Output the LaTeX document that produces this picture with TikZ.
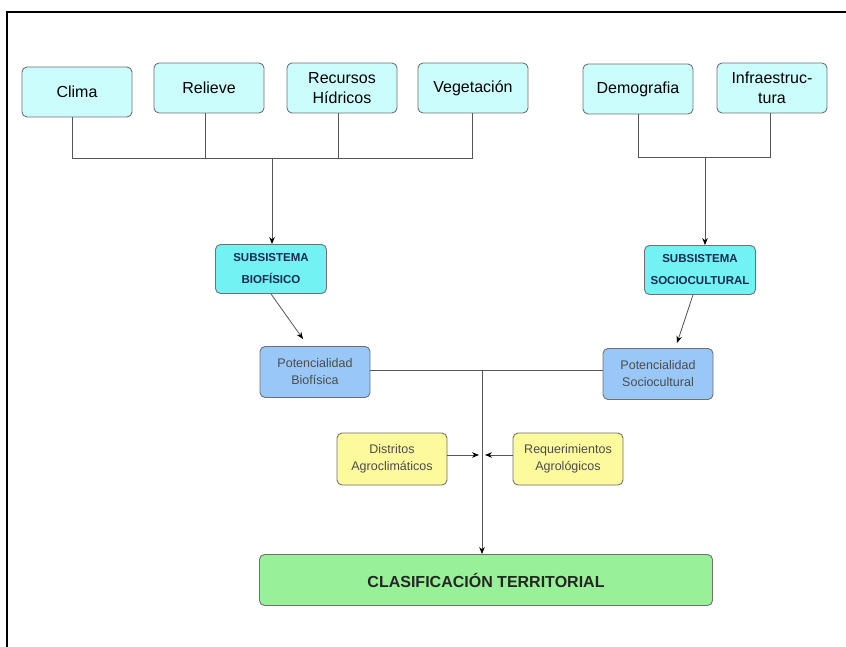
\documentclass[tikz,border=0pt]{standalone}
\usepackage{fontspec}
\setmainfont{Liberation Sans}
\usetikzlibrary{arrows.meta}
\definecolor{topfill}{HTML}{CCFDFD}
\definecolor{subfill}{HTML}{72F2F2}
\definecolor{potfill}{HTML}{99C8F8}
\definecolor{yelfill}{HTML}{FCFA9C}
\definecolor{grnfill}{HTML}{98F098}
\definecolor{edgegray}{HTML}{707070}
\definecolor{linegray}{HTML}{555555}
\definecolor{subtext}{HTML}{1A2A50}
\tikzset{
  box/.style={draw=edgegray, line width=0.9pt, rounded corners=5pt, align=center, inner sep=0pt},
  topbox/.style={box, fill=topfill, minimum width=110pt, minimum height=50pt, font=\fontsize{16}{20}\selectfont},
  subbox/.style={box, fill=subfill, minimum width=111pt, minimum height=49pt, font=\fontsize{11.5}{22}\selectfont\bfseries\color{subtext}},
  potbox/.style={box, fill=potfill, minimum width=110pt, minimum height=51pt, font=\fontsize{12.5}{17}\selectfont\color{black!70}},
  yelbox/.style={box, fill=yelfill, minimum width=110pt, minimum height=52pt, font=\fontsize{12.5}{17}\selectfont\color{black!70}},
  grnbox/.style={box, fill=grnfill, minimum width=453pt, minimum height=51pt, font=\fontsize{16}{18}\selectfont\bfseries\color{black!85}},
  conn/.style={draw=linegray, line width=0.8pt},
  arr/.style={conn, -{Stealth[length=7pt,width=5.5pt,black]}},
  frame/.style={draw=black, line width=2.2pt}
}
\begin{document}
\begin{tikzpicture}[x=1pt,y=-1pt]
\useasboundingbox (0,0) rectangle (846,647);
\draw[frame] (7,647) -- (7,12) -- (846,12);

\node[topbox] (clima) at (77,92) {Clima};
\node[topbox] (relieve) at (209,88) {Relieve};
\node[topbox] (recursos) at (342,88) {Recursos\\Hídricos};
\node[topbox] (veget) at (473,88) {Vegetación};
\node[topbox] (demo) at (638,89) {Demografia};
\node[topbox] (infra) at (772,88) {Infraestruc-\\tura};

\node[subbox] (subbio) at (271,269) {SUBSISTEMA\\BIOFÍSICO};
\node[subbox] (subsoc) at (700,270) {SUBSISTEMA\\SOCIOCULTURAL};

\node[potbox] (potbio) at (315,372) {Potencialidad\\Biofísica};
\node[potbox] (potsoc) at (658,374) {Potencialidad\\Sociocultural};

\node[yelbox] (dist) at (392,459) {Distritos\\Agroclimáticos};
\node[yelbox] (req) at (568,459) {Requerimientos\\Agrológicos};

\node[grnbox] (clas) at (486,580) {CLASIFICACIÓN TERRITORIAL};

% biophysical bus
\coordinate (busL) at (72,158);
\coordinate (busR) at (472,158);
\coordinate (busM) at (272,158);
\draw[conn] (clima.south -| busL) -- (busL) -- (busR) -- (veget.south -| busR);
\draw[conn] (relieve.south -| 205,0) -- (205,158);
\draw[conn] (recursos.south -| 338,0) -- (338,158);
\draw[arr] (busM) -- (subbio.north -| busM);

% sociocultural bus
\coordinate (sbusL) at (638,157);
\coordinate (sbusR) at (770,157);
\coordinate (sbusM) at (705,157);
\draw[conn] (demo.south -| sbusL) -- (sbusL) -- (sbusR) -- (infra.south -| sbusR);
\draw[arr] (sbusM) -- (subsoc.north -| sbusM);

% subsystems to potentials
\coordinate (pbtip) at (303,339);
\coordinate (pstip) at (677,343);
\draw[arr] (subbio.south) -- (pbtip);
\draw[arr] (subsoc.south -| 693,0) -- (pstip);

% potentials bus
\coordinate (pj) at (482,370);
\draw[conn] (potbio.east |- pj) -- (potsoc.west |- pj);
\draw[arr] (pj) -- (clas.north -| pj);

% side inputs
\coordinate (dtip) at (479,455);
\coordinate (rtip) at (485,455);
\draw[arr] (dist.east |- dtip) -- (dtip);
\draw[arr] (req.west |- rtip) -- (rtip);
\end{tikzpicture}
\end{document}
